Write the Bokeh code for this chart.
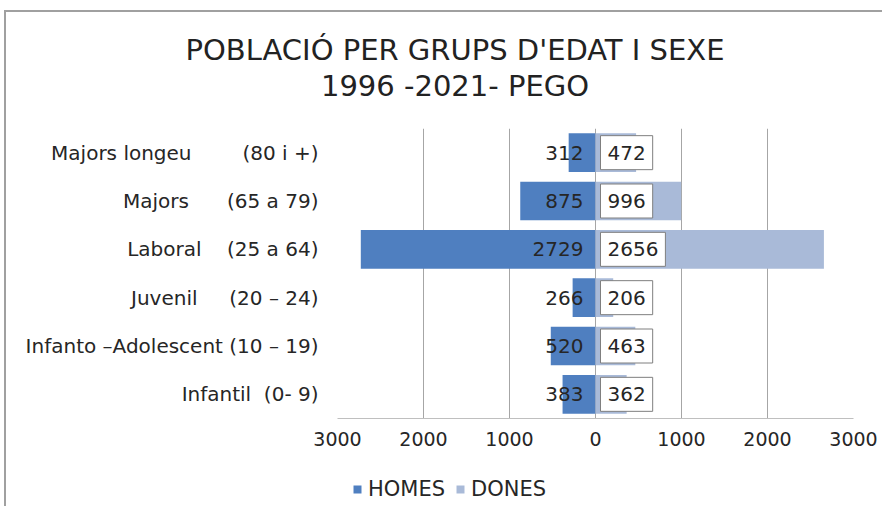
from bokeh.plotting import figure
from bokeh.models import (FactorRange, Range1d, FixedTicker, Legend, LegendItem,
                          ColumnDataSource, Div)
from bokeh.layouts import column
from bokeh.core.properties import value
from bokeh.embed import file_html
from bokeh.resources import INLINE

NB = "\u00a0"

# ---- data ----
group_names = ["Majors longeu", "Majors", "Laboral", "Juvenil",
               "Infanto \u2013Adolescent", "Infantil"]
age_ranges = ["(80 i +)", "(65 a 79)", "(25 a 64)", "(20 \u2013 24)",
              "(10 \u2013 19)", "(0- 9)"]
gaps = [8, 6, 4, 5, 1, 2]
homes = [312, 875, 2729, 266, 520, 383]
dones = [472, 996, 2656, 206, 463, 362]
tick_values = [-3000, -2000, -1000, 0, 1000, 2000, 3000]
tick_labels = ["3000", "2000", "1000", "0", "1000", "2000", "3000"]
series_names = ["HOMES", "DONES"]
title_lines = ["POBLACIÓ PER GRUPS D'EDAT I SEXE", "1996 -2021- PEGO"]

FONT = "DejaVu Sans"
C_HOMES = "#4f7fc0"
C_DONES = "#a9bad8"
TXT = "#262626"

cats = [n + NB * g + r for n, g, r in zip(group_names, gaps, age_ranges)]

src = ColumnDataSource(dict(
    cat=cats,
    homes_left=[-v for v in homes],
    dones=dones,
    homes_txt=[str(v) for v in homes],
    dones_txt=[str(v) for v in dones],
    zero=[0] * len(cats),
))

# ---------------- main chart ----------------
p = figure(width=872, height=348, output_backend="svg", toolbar_location=None,
           y_range=FactorRange(factors=list(reversed(cats))),
           x_range=Range1d(-3000, 3000),
           min_border_left=331, min_border_right=25, min_border_top=18,
           min_border_bottom=40)
p.outline_line_color = None
p.background_fill_color = "white"
p.border_fill_color = "white"

p.hbar(y="cat", left="homes_left", right="zero", height=0.8, source=src,
       fill_color=C_HOMES, line_color=None)
p.hbar(y="cat", left="zero", right="dones", height=0.8, source=src,
       fill_color=C_DONES, line_color=None)

p.text(x="zero", y="cat", text="homes_txt", source=src, x_offset=-12,
       text_align="right", text_baseline="middle", text_font=value(FONT),
       text_font_size="20px", text_color=TXT)
p.text(x="zero", y="cat", text="dones_txt", source=src, x_offset=5,
       text_align="left", text_baseline="middle", text_font=value(FONT),
       text_font_size="20px", text_color=TXT,
       background_fill_color="white", border_line_color="#7f7f7f",
       border_line_width=1, padding=dict(left=7, right=7, top=10, bottom=10))

p.xaxis.ticker = FixedTicker(ticks=tick_values)
p.xaxis.major_label_overrides = {v: l for v, l in zip(tick_values, tick_labels)}
p.xaxis.major_tick_line_color = None
p.xaxis.minor_tick_line_color = None
p.xaxis.axis_line_color = "#bfbfbf"
p.xaxis.major_label_text_font = FONT
p.xaxis.major_label_text_font_size = "19px"
p.xaxis.major_label_text_color = TXT
p.xaxis.major_label_standoff = 7

p.yaxis.axis_line_color = None
p.yaxis.major_tick_line_color = None
p.yaxis.minor_tick_line_color = None
p.yaxis.major_label_text_font = FONT
p.yaxis.major_label_text_font_size = "20px"
p.yaxis.major_label_text_color = TXT
p.yaxis.major_label_standoff = 13

p.xgrid.ticker = FixedTicker(ticks=tick_values)
p.xgrid.grid_line_color = "#a6a6a6"
p.ygrid.grid_line_color = None

# ---------------- legend strip ----------------
pl = figure(width=872, height=48, output_backend="svg", toolbar_location=None,
            x_axis_type=None, y_axis_type=None,
            y_range=FactorRange(factors=list(reversed(cats))),
            x_range=Range1d(-3000, 3000),
            min_border_left=0, min_border_right=0, min_border_top=0,
            min_border_bottom=0)
pl.outline_line_color = None
pl.xgrid.grid_line_color = None
pl.ygrid.grid_line_color = None
lh = pl.hbar(y="cat", left="homes_left", right="zero", height=0.8, source=src,
             fill_color=C_HOMES, line_color=None)
ld = pl.hbar(y="cat", left="zero", right="dones", height=0.8, source=src,
             fill_color=C_DONES, line_color=None)
lh.visible = False
ld.visible = False
legend = Legend(items=[LegendItem(label=series_names[0], renderers=[lh]),
                       LegendItem(label=series_names[1], renderers=[ld])],
                orientation="horizontal", location=(15, 5),
                glyph_width=10, glyph_height=10, label_standoff=6,
                spacing=10, padding=0, margin=0,
                border_line_color=None, background_fill_alpha=0,
                inactive_fill_alpha=0,
                label_text_font=FONT, label_text_font_size="21px",
                label_text_color=TXT)
pl.add_layout(legend, "center")

# ---------------- title ----------------
title = Div(text=("<div style='width:866px; box-sizing:border-box; text-align:center;"
                  "padding-left:22px; padding-top:15px;"
                  f"font-family:\"{FONT}\"; font-size:29px; line-height:36px; color:#222;'>"
                  f"{title_lines[0]}<br>{title_lines[1]}</div>"),
            width=866, height=88)

layout = column(title, p, pl, margin=(10, 0, 0, 4),
                styles={"border-top": "2px solid #a0a0a0",
                        "border-left": "2px solid #a0a0a0"})
open("out.html", "w").write(file_html(layout, INLINE))
